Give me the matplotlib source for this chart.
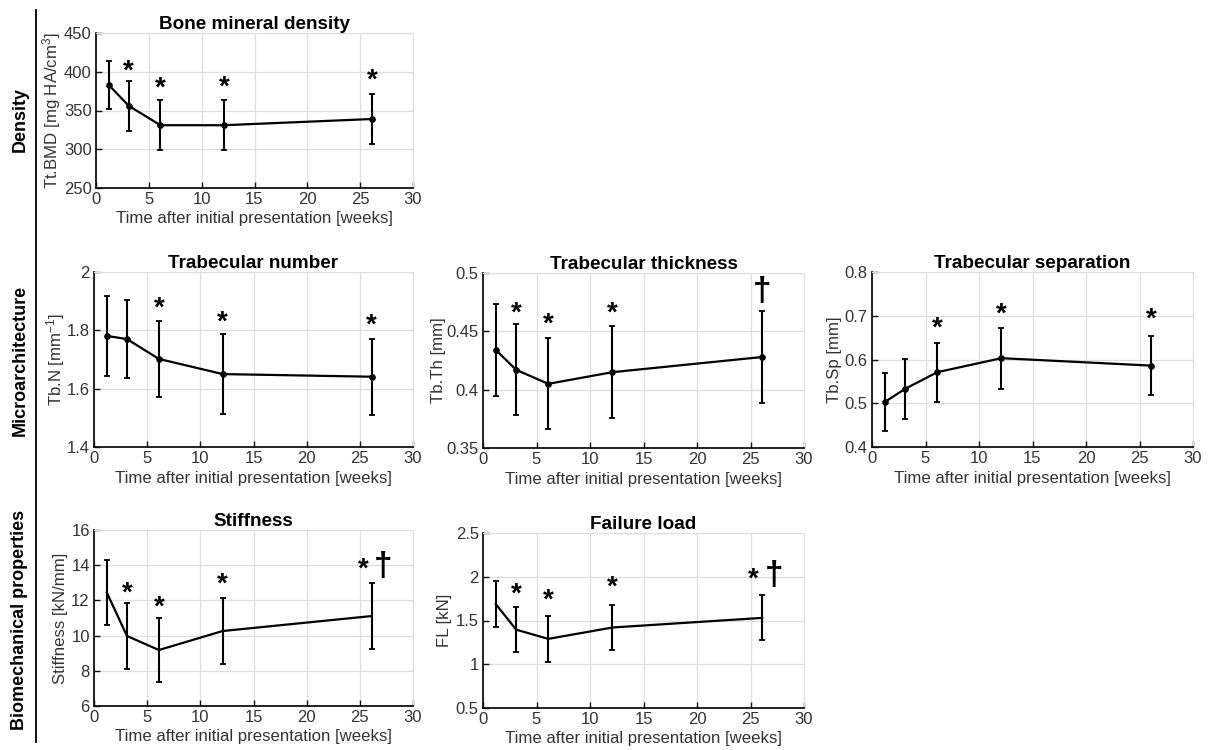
import matplotlib
matplotlib.use('Agg')
import matplotlib.pyplot as plt
import matplotlib.lines as mlines

plt.rcParams['font.family'] = ['Liberation Sans', 'DejaVu Sans']
plt.rcParams['mathtext.default'] = 'regular'

# ---------------- data ----------------
weeks = [1.2, 3.1, 6.1, 12.1, 26.1]
xlabel = 'Time after initial presentation [weeks]'

bmd_mean = [383, 356, 331, 331, 339]
bmd_err = [31, 32, 32, 32, 32]
bmd_marks = [(3.1, 400, '*'), (6.1, 378, '*'), (12.1, 380, '*'), (26.1, 389, '*')]

tbn_mean = [1.781, 1.770, 1.702, 1.650, 1.641]
tbn_err = [0.137, 0.134, 0.130, 0.136, 0.130]
tbn_marks = [(6.1, 1.875, '*'), (12.1, 1.826, '*'), (26.1, 1.815, '*')]

tbth_mean = [0.434, 0.417, 0.405, 0.415, 0.428]
tbth_err = [0.0395, 0.039, 0.039, 0.0395, 0.0395]
tbth_marks = [(3.1, 0.465, '*'), (6.1, 0.456, '*'), (12.1, 0.465, '*'), (26.1, 0.484, '\u2020')]

tbsp_mean = [0.503, 0.533, 0.571, 0.603, 0.586]
tbsp_err = [0.067, 0.068, 0.067, 0.070, 0.068]
tbsp_marks = [(6.1, 0.670, '*'), (12.1, 0.702, '*'), (26.1, 0.690, '*')]

stiff_mean = [12.45, 9.98, 9.18, 10.26, 11.11]
stiff_err = [1.85, 1.87, 1.83, 1.90, 1.87]
stiff_marks = [(3.1, 12.4, '*'), (6.1, 11.6, '*'), (12.1, 12.9, '*'), (25.3, 13.75, '*'), (27.2, 13.9, '\u2020')]

fl_mean = [1.687, 1.395, 1.290, 1.420, 1.530]
fl_err = [0.262, 0.259, 0.261, 0.261, 0.257]
fl_marks = [(3.1, 1.80, '*'), (6.1, 1.73, '*'), (12.1, 1.87, '*'), (25.3, 1.97, '*'), (27.2, 2.01, '\u2020')]

W, H = 1208, 750
fig = plt.figure(figsize=(W / 100, H / 100), dpi=100)

TXT = '#333333'
GRID = '#dedede'


def make_ax(l, r, t, b):
    return fig.add_axes([l / W, 1 - b / H, (r - l) / W, (b - t) / H])


def panel(box, mean, err, marks, title, ylabel, ylim, yticks, ylab_off, markers=True):
    l, r, t, b = box
    ax = make_ax(l, r, t, b)
    ax.errorbar(weeks, mean, yerr=err, color='black', lw=1.6, elinewidth=1.5,
                capsize=2.5, capthick=1.3, marker='o' if markers else None,
                markersize=3.8, zorder=3)
    ax.set_xlim(0, 30)
    ax.set_ylim(*ylim)
    ax.set_xticks([0, 5, 10, 15, 20, 25, 30])
    ax.set_yticks(yticks)
    ax.set_yticklabels([('%g' % v) for v in yticks])
    ax.grid(True, color=GRID, lw=0.9)
    ax.set_axisbelow(True)
    for s in ['top', 'right']:
        ax.spines[s].set_color(GRID)
    for s in ['left', 'bottom']:
        ax.spines[s].set_color('#111111')
        ax.spines[s].set_linewidth(1.3)
    ax.tick_params(direction='in', length=4, width=1, colors='#111111',
                   labelcolor=TXT, labelsize=12, pad=3, top=False, right=False)
    ax.set_title(title, fontsize=13.6, fontweight='bold', pad=3)
    ax.set_xlabel(xlabel, fontsize=12.1, color=TXT, va='center')
    ax.xaxis.set_label_coords(0.5, -31 / (b - t))
    ax.set_ylabel(ylabel, fontsize=12.1, color=TXT, va='center')
    ax.yaxis.set_label_coords(-ylab_off / (r - l), 0.5)
    for x, y, s in marks:
        if s == '*':
            ax.text(x, y, s, fontsize=20, fontweight='bold', ha='center', va='center', zorder=4)
        else:
            ax.text(x, y, s, fontsize=24, fontweight='bold', ha='center', va='center', zorder=4)
    return ax


panel((96, 413, 33, 188), bmd_mean, bmd_err, bmd_marks, 'Bone mineral density',
      'Tt.BMD [mg HA/cm$^3$]', (250, 450), [250, 300, 350, 400, 450], 44)
panel((94, 413, 272, 447), tbn_mean, tbn_err, tbn_marks, 'Trabecular number',
      'Tb.N [mm$^{-1}$]', (1.4, 2.0), [1.4, 1.6, 1.8, 2.0], 38)
panel((483, 804, 273, 448), tbth_mean, tbth_err, tbth_marks, 'Trabecular thickness',
      'Tb.Th [mm]', (0.35, 0.5), [0.35, 0.4, 0.45, 0.5], 45)
panel((872, 1193, 272, 447), tbsp_mean, tbsp_err, tbsp_marks, 'Trabecular separation',
      'Tb.Sp [mm]', (0.4, 0.8), [0.4, 0.5, 0.6, 0.7, 0.8], 38)
panel((94, 413, 530, 706), stiff_mean, stiff_err, stiff_marks, 'Stiffness',
      'Stiffness [kN/mm]', (6, 16), [6, 8, 10, 12, 14, 16], 33, markers=False)
panel((483, 804, 533, 708), fl_mean, fl_err, fl_marks, 'Failure load',
      'FL [kN]', (0.5, 2.5), [0.5, 1, 1.5, 2, 2.5], 38, markers=False)

# left group labels and separator line
fig.add_artist(mlines.Line2D([36 / W, 36 / W], [1 - 10 / H, 1 - 742 / H], color='black', lw=1.3))
for text, yc in [('Density', 120), ('Microarchitecture', 360), ('Biomechanical properties', 620)]:
    fig.text(20 / W, 1 - yc / H, text, rotation=90, ha='center', va='center',
             fontsize=13, fontweight='bold')

fig.savefig('out.png', dpi=100)
